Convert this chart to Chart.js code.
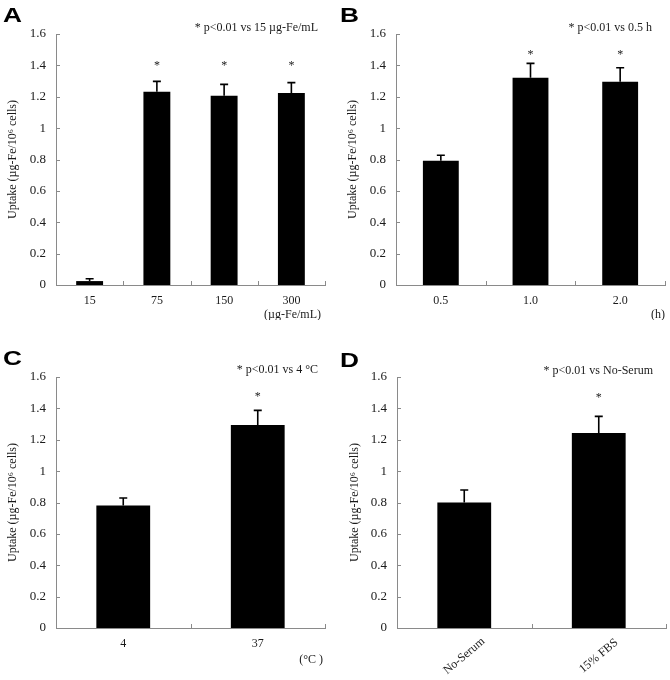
<!DOCTYPE html>
<html>
<head>
<meta charset="utf-8">
<script src="https://cdn.jsdelivr.net/npm/chart.js@4.4.1/dist/chart.umd.min.js"></script>
<style>
  html, body { margin: 0; padding: 0; background: #fff; }
  #wrap { position: relative; width: 670px; height: 680px; }
  .panel { position: absolute; }
</style>
</head>
<body>
<div id="wrap">
  <div class="panel" style="left:0;top:0;width:335px;height:320px"><canvas id="chartA"></canvas></div>
  <div class="panel" style="left:335px;top:0;width:335px;height:320px"><canvas id="chartB"></canvas></div>
  <div class="panel" style="left:0;top:320px;width:335px;height:360px"><canvas id="chartC"></canvas></div>
  <div class="panel" style="left:335px;top:320px;width:335px;height:360px"><canvas id="chartD"></canvas></div>
</div>
<script>
// --- data ---
const yTicks = [0, 0.2, 0.4, 0.6, 0.8, 1, 1.2, 1.4, 1.6];
const yTitle = 'Uptake (µg-Fe/10⁶ cells)';

const concLabels = ['15', '75', '150', '300'];
const concUptake = [0.025, 1.232, 1.207, 1.224];
const concError = [0.015, 0.066, 0.072, 0.066];
const concSig = [false, true, true, true];

const timeLabels = ['0.5', '1.0', '2.0'];
const timeUptake = [0.792, 1.321, 1.296];
const timeError = [0.035, 0.092, 0.089];
const timeSig = [false, true, true];

const tempLabels = ['4', '37'];
const tempUptake = [0.781, 1.294];
const tempError = [0.048, 0.093];
const tempSig = [false, true];

const serumLabels = ['No-Serum', '15% FBS'];
const serumUptake = [0.800, 1.243];
const serumError = [0.080, 0.106];
const serumSig = [false, true];

const starLevels = [1.41, 1.48, 1.49, 1.48];
const notes = ['* p<0.01 vs 15 µg-Fe/mL', '* p<0.01 vs 0.5 h', '* p<0.01 vs 4 °C', '* p<0.01 vs No-Serum'];
const units = ['(µg-Fe/mL)', '(h)', '(°C )', ''];

// --- look ---
const SERIF = '"Liberation Serif", "Times New Roman", serif';
const SANS = '"Liberation Sans", Arial, sans-serif';
const axisGrey = '#8a8a8a';
const textColor = '#1a1a1a';

const panels = [
    {id: 'chartA', letter: 'A', labels: concLabels, values: concUptake, errors: concError, sig: concSig,
     star: starLevels[0], note: notes[0], unit: units[0], w: 335, h: 320,
     box: {left: 56, top: 34, right: 325, bottom: 285}, titleX: 13,
     letterXY: [3, 22], noteXY: [318, 28], unitXY: [321, 315], rotated: false},
    {id: 'chartB', letter: 'B', labels: timeLabels, values: timeUptake, errors: timeError, sig: timeSig,
     star: starLevels[1], note: notes[1], unit: units[1], w: 335, h: 320,
     box: {left: 61, top: 34, right: 330, bottom: 285}, titleX: 18,
     letterXY: [5, 22], noteXY: [317, 28], unitXY: [330, 315], rotated: false},
    {id: 'chartC', letter: 'C', labels: tempLabels, values: tempUptake, errors: tempError, sig: tempSig,
     star: starLevels[2], note: notes[2], unit: units[2], w: 335, h: 360,
     box: {left: 56, top: 57, right: 325, bottom: 308}, titleX: 13,
     letterXY: [3, 45], noteXY: [318, 50], unitXY: [323, 340], rotated: false},
    {id: 'chartD', letter: 'D', labels: serumLabels, values: serumUptake, errors: serumError, sig: serumSig,
     star: starLevels[3], note: notes[3], unit: units[3], w: 335, h: 360,
     box: {left: 62, top: 57, right: 331, bottom: 308}, titleX: 20,
     letterXY: [5, 47], noteXY: [318, 51], unitXY: [330, 340], rotated: true}
];

function makeExtras(p) {
    return {
        id: 'extras_' + p.letter,
        afterDatasetsDraw(chart) {
            const {ctx, chartArea} = chart;
            const xs = chart.scales.x, ys = chart.scales.y;
            ctx.save();

            // inward tick marks
            ctx.strokeStyle = axisGrey;
            ctx.lineWidth = 1;
            ctx.beginPath();
            yTicks.forEach(v => {
                const py = Math.round(ys.getPixelForValue(v)) + 0.5;
                ctx.moveTo(chartArea.left, py);
                ctx.lineTo(chartArea.left + 4, py);
            });
            const n = p.labels.length;
            for (let i = 1; i <= n; i++) {
                const px = i < n ? (xs.getPixelForValue(i - 1) + xs.getPixelForValue(i)) / 2 : chartArea.right;
                const rx = Math.round(px) + 0.5;
                ctx.moveTo(rx, chartArea.bottom);
                ctx.lineTo(rx, chartArea.bottom - 4);
            }
            ctx.stroke();

            // error bars (upper only)
            ctx.strokeStyle = '#000';
            ctx.lineWidth = 1.6;
            ctx.beginPath();
            p.values.forEach((v, i) => {
                const px = xs.getPixelForValue(i);
                const yb = ys.getPixelForValue(v);
                const yt = ys.getPixelForValue(v + p.errors[i]);
                ctx.moveTo(px, yb);
                ctx.lineTo(px, yt);
                ctx.moveTo(px - 4, yt);
                ctx.lineTo(px + 4, yt);
            });
            ctx.stroke();

            // significance stars
            ctx.fillStyle = textColor;
            ctx.font = '12px ' + SERIF;
            ctx.textAlign = 'center';
            ctx.textBaseline = 'alphabetic';
            const m = ctx.measureText('*');
            const starY = ys.getPixelForValue(p.star) + (m.actualBoundingBoxAscent - m.actualBoundingBoxDescent) / 2;
            p.sig.forEach((s, i) => {
                if (s) ctx.fillText('*', xs.getPixelForValue(i), starY);
            });

            // p-value note
            ctx.textAlign = 'right';
            ctx.textBaseline = 'middle';
            ctx.fillText(p.note, p.noteXY[0], p.noteXY[1]);

            // unit label under x axis
            if (p.unit) {
                ctx.font = '12px ' + SERIF;
                ctx.fillText(p.unit, p.unitXY[0], p.unitXY[1]);
            }

            // rotated category labels (panel D)
            if (p.rotated) {
                ctx.font = '12px ' + SERIF;
                ctx.textAlign = 'center';
                ctx.textBaseline = 'middle';
                p.labels.forEach((lab, i) => {
                    ctx.save();
                    ctx.translate(xs.getPixelForValue(i), chartArea.bottom + 28);
                    ctx.rotate(-40 * Math.PI / 180);
                    ctx.fillText(lab, 0, 0);
                    ctx.restore();
                });
            }

            // panel letter
            ctx.save();
            ctx.translate(p.letterXY[0], p.letterXY[1]);
            ctx.scale(1.25, 1);
            ctx.fillStyle = '#000';
            ctx.font = 'bold 21px ' + SANS;
            ctx.textAlign = 'left';
            ctx.textBaseline = 'alphabetic';
            ctx.fillText(p.letter, 0, 0);
            ctx.restore();

            ctx.restore();
        }
    };
}

function buildPanel(p) {
    const canvas = document.getElementById(p.id);
    return new Chart(canvas, {
        type: 'bar',
        data: {
            labels: p.labels,
            datasets: [{
                data: p.values,
                backgroundColor: '#000',
                borderWidth: 0,
                barPercentage: 0.4,
                categoryPercentage: 1
            }]
        },
        options: {
            responsive: true,
            maintainAspectRatio: false,
            animation: false,
            layout: {
                padding: {top: p.box.top, right: p.w - p.box.right, left: 0, bottom: 0}
            },
            plugins: {
                legend: {display: false},
                tooltip: {enabled: false}
            },
            scales: {
                x: {
                    type: 'category',
                    grid: {display: false},
                    border: {display: true, color: axisGrey, width: 1},
                    ticks: {
                        display: !p.rotated,
                        color: textColor,
                        font: {family: SERIF, size: 12},
                        padding: 1,
                        maxRotation: 0,
                        autoSkip: false
                    },
                    afterFit(scale) { scale.height = p.h - p.box.bottom; }
                },
                y: {
                    min: 0,
                    max: 1.6,
                    grid: {display: false, drawTicks: false},
                    border: {display: true, color: axisGrey, width: 1},
                    afterBuildTicks(scale) { scale.ticks = yTicks.map(v => ({value: v})); },
                    ticks: {
                        color: textColor,
                        font: {family: SERIF, size: 13},
                        padding: 10,
                        callback: v => String(v)
                    },
                    title: {
                        display: true,
                        text: yTitle,
                        color: textColor,
                        font: {family: SERIF, size: 12},
                        padding: {top: p.titleX - 7.2, bottom: 0}
                    },
                    afterFit(scale) { scale.width = p.box.left; }
                }
            }
        },
        plugins: [makeExtras(p)]
    });
}

panels.forEach(buildPanel);
</script>
</body>
</html>
